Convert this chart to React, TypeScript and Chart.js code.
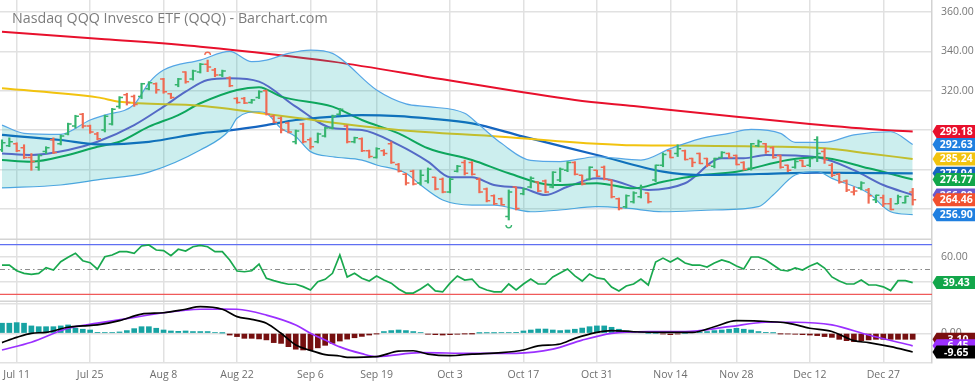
import React, { useEffect, useRef } from 'react';
import { Chart, registerables } from 'chart.js';

Chart.register(...registerables);

// ---------- categories (trading days) ----------
const MONTHS: [string, number[]][] = [
  ['Jul', [7, 8, 11, 12, 13, 14, 15, 18, 19, 20, 21, 22, 25, 26, 27, 28, 29]],
  ['Aug', [1, 2, 3, 4, 5, 8, 9, 10, 11, 12, 15, 16, 17, 18, 19, 22, 23, 24, 25, 26, 29, 30, 31]],
  ['Sep', [1, 2, 6, 7, 8, 9, 12, 13, 14, 15, 16, 19, 20, 21, 22, 23, 26, 27, 28, 29, 30]],
  ['Oct', [3, 4, 5, 6, 7, 10, 11, 12, 13, 14, 17, 18, 19, 20, 21, 24, 25, 26, 27, 28, 31]],
  ['Nov', [1, 2, 3, 4, 7, 8, 9, 10, 11, 14, 15, 16, 17, 18, 21, 22, 23, 25, 28, 29, 30]],
  ['Dec', [1, 2, 5, 6, 7, 8, 9, 12, 13, 14, 15, 16, 19, 20, 21, 22, 23, 27, 28, 29, 30]],
  ['Jan', [3]],
];
const DATES: string[] = MONTHS.flatMap(([m, days]) => days.map((d) => `${m} ${d}`));
const TICK_DATES = ['Jul 11', 'Jul 25', 'Aug 8', 'Aug 22', 'Sep 6', 'Sep 19', 'Oct 3', 'Oct 17', 'Oct 31', 'Nov 14', 'Nov 28', 'Dec 12', 'Dec 27'];

const TITLE = 'Nasdaq QQQ Invesco ETF (QQQ) - Barchart.com';

// ---------- price bars ----------
const OPEN = [
  290, 292, 293, 291, 286, 281, 289, 295, 293, 298,
  302, 308, 302, 298, 300, 303, 312, 318, 317, 317,
  321, 323.5, 326, 318.5, 323, 329.5, 326, 329.5, 333.5, 330.5,
  328, 326.5, 316, 316, 314, 316.5, 320, 307, 306, 303.5,
  294, 303, 295, 294, 297, 301, 308, 302, 294, 295.5,
  289.5, 286, 289.5, 293, 282.5, 277.5, 279, 273, 274, 276,
  275, 268.5, 279, 283.5, 283.5, 275, 270, 266.5, 265, 256,
  271, 267.5, 271, 273.5, 274, 271, 274.5, 279.5, 283.5, 277,
  275, 279.5, 281, 274.5, 265, 261, 263.5, 266, 268, 274.5,
  282, 289.5, 288, 289.5, 285.5, 288, 285.5, 281.5, 286, 288,
  287, 283.5, 280.5, 292, 293, 291, 287, 282, 281, 284.5,
  282, 295, 289, 282, 277.5, 274, 268.5, 270.5, 269.5, 264.5,
  265.5, 262.5, 262.5, 263, 268.5,
];
const HIGH = [
  295, 296, 293.5, 292.5, 288, 287.5, 291.5, 296, 297.5, 303.5,
  307.5, 308.5, 302.5, 298.8, 307.6, 311, 317, 318.7, 317.8, 323.8,
  324.6, 324, 326.3, 318.7, 326.3, 329.7, 330.5, 333.9, 335.6, 331.4,
  330.5, 327.1, 316.5, 316.6, 315.6, 320, 320.4, 307.6, 306.6, 304,
  300, 303.5, 296, 298.5, 301.5, 307.6, 311, 302.5, 296.4, 296,
  289.8, 291, 290, 294, 283, 278, 279.6, 279.6, 280.7, 276,
  275.6, 275.6, 282, 284.7, 283.9, 275.6, 270.5, 267, 265.4, 269.5,
  271, 270.5, 276.2, 273.7, 274.6, 278.8, 280.7, 283.9, 283.9, 277.1,
  281.3, 279.6, 281.7, 274.6, 265.4, 267, 268.6, 272, 268, 282.2,
  288.3, 289.8, 292.5, 289.8, 285.7, 288.3, 285.7, 285.7, 289, 288.3,
  287.3, 283.9, 293.2, 294.9, 293.2, 291.5, 287.3, 282.2, 284.7, 284.7,
  285.6, 296.6, 290.7, 283, 278, 274.6, 271.1, 273.7, 270.3, 266.9,
  266.9, 265.2, 266.9, 266.4, 270.3,
];
const LOW = [
  289, 291.5, 289, 285.5, 279.5, 279.5, 288, 288, 292.4, 297.5,
  301, 301, 298.3, 295, 299, 302.5, 311, 312.7, 312, 316,
  320.4, 318.7, 318.7, 316, 322, 323.8, 325.4, 329, 329.7, 327.1,
  327.1, 322, 313.6, 313.4, 313.6, 316, 307.6, 303.6, 298.5, 298.5,
  292.9, 293.4, 290.3, 293.4, 296.4, 300.5, 307.6, 293.4, 293.4, 289,
  285.8, 285.7, 287, 283, 278.6, 272, 272, 272, 273, 269.5,
  268, 268, 278.6, 277.1, 277, 268, 263.4, 262, 261.8, 254.2,
  259.3, 267, 270.5, 268.6, 268, 270.5, 273.7, 278.8, 277.1, 272,
  274.6, 276.2, 274.6, 265.4, 259.3, 260.3, 262.8, 265.4, 262.8, 273.7,
  281.3, 285.8, 286.5, 284.7, 281.3, 282.8, 281.3, 280.7, 285.7, 285.7,
  282.2, 279.6, 279.6, 291.5, 288.1, 285.6, 280.5, 278.8, 280.5, 281.3,
  281.3, 283.9, 283, 276.2, 272.9, 268.6, 266.9, 269.5, 262.7, 263,
  261, 259.3, 262.5, 262.8, 261.8,
];
const CLOSE = [
  293.5, 294, 289.5, 286, 284, 287, 291, 288.5, 297, 303,
  307, 302, 299, 295.5, 307, 310.5, 316.5, 314, 313, 323.5,
  324, 320.5, 319.5, 316.5, 326, 324.5, 330, 333.5, 332, 328,
  330, 322.5, 314, 313.8, 315.3, 319.5, 308, 304, 300, 299,
  299.5, 294, 291.5, 298, 301, 307, 310.5, 294, 296, 289.5,
  286.5, 290.5, 288, 283.5, 279, 273, 272.5, 277, 280, 270,
  268.5, 275, 281.5, 278, 277.5, 268.5, 264, 262.5, 262, 268.5,
  260, 270, 275.5, 269, 268.5, 278.5, 280, 283.5, 277.5, 272.5,
  281, 276.5, 275, 266, 260, 266.5, 268, 271, 263.5, 282,
  287.5, 286, 290.5, 285, 283.5, 283, 282, 285.5, 288.5, 286,
  282.5, 280, 293, 294, 289, 286, 281, 279.5, 284, 281.5,
  285.5, 288, 285, 277, 273.5, 269.5, 269, 273, 266.5, 266.8,
  262.5, 259.5, 266, 266.3, 264.46,
];

// ---------- overlay lines, read at sample days: [dayIndex, value] ----------
const MA200: [number, number][] = [[0, 350], [14, 346.2], [27, 342.4], [45, 334.8], [60, 325.8], [78, 315.3], [86, 312.2], [100, 306.8], [110, 303.1], [120, 300], [124, 299.18]];
const MA100: [number, number][] = [[0, 321.2], [13, 316.6], [16, 314.4], [27, 312.4], [32, 310.2], [40, 306.2], [54, 300], [68, 296.6], [81, 293], [86, 292.2], [95, 292], [109, 291.2], [112, 290.7], [118, 288.1], [124, 285.24]];
const MA50: [number, number][] = [[0, 297.5], [8, 294.9], [13, 292.7], [20, 294], [27, 298.3], [31, 299.8], [36, 302.5], [40, 305.1], [45, 306.8], [49, 307.6], [54, 307.1], [58, 305.9], [64, 303.4], [71, 296.6], [81, 287.3], [90, 278.8], [95, 277.1], [103, 277.6], [111, 278.3], [124, 277.94]];
const MA20: [number, number][] = [[0, 284.7], [4, 283.9], [9, 287.3], [13, 291.5], [16, 294], [20, 301.7], [24, 307.6], [27, 313.6], [32, 320.4], [35, 321.8], [38, 317], [45, 311.9], [49, 305.1], [54, 298.3], [58, 290.7], [64, 284.7], [69, 278], [75, 272], [81, 272.9], [86, 270.3], [90, 273.7], [95, 277], [100, 278.8], [107, 284.7], [111, 286.1], [118, 280.5], [124, 274.77]];
const MA10: [number, number][] = [[0, 288.1], [4, 287.3], [9, 289.8], [13, 294], [18, 302.5], [22, 311.9], [25, 319.5], [28, 325.4], [31, 326.3], [35, 324.6], [40, 311.9], [45, 301], [49, 300], [54, 292.4], [58, 283.9], [61, 276], [64, 275.9], [67, 272], [71, 270.3], [74, 266.9], [77, 271.1], [81, 275.4], [83, 274.6], [88, 269.5], [93, 272.9], [98, 285.6], [101, 285.6], [104, 287.3], [111, 286.1], [116, 279.6], [120, 272], [124, 266.9]];
const BB_UPPER: [number, number][] = [[0, 302.5], [3, 298.3], [8, 297.8], [12, 305.1], [14, 307.6], [18, 313], [20, 324], [22, 330.5], [27, 335.6], [31, 340], [34, 334.8], [36, 335.6], [39, 339], [42, 340.7], [45, 339], [51, 320.4], [55, 313.3], [58, 311.9], [63, 308.5], [65, 302.5], [68, 293.2], [72, 284.5], [76, 283.9], [81, 286.4], [87, 284.7], [91, 290.5], [95, 295.5], [99, 298.3], [102, 300.3], [106, 298.3], [108, 293.7], [112, 293.7], [116, 297.5], [121, 299.1], [124, 292.63]];
const BB_LOWER: [number, number][] = [[0, 270.5], [8, 272], [13, 274.6], [20, 278.6], [27, 289.8], [31, 300], [32, 306], [35, 309.3], [36, 308.5], [38, 300.9], [40, 296.6], [42, 289], [45, 286.4], [49, 284.7], [51, 282.2], [55, 278], [57, 272], [60, 264.4], [64, 261.8], [67, 261.8], [72, 258.4], [76, 259.3], [81, 261], [85, 260.2], [90, 258.4], [97, 259.3], [103, 261], [105, 266.9], [108, 277.1], [111, 278.8], [113, 275.4], [118, 267.8], [121, 258.4], [124, 256.9]];

// ---------- RSI ----------
const RSI = [
  53.6, 53.6, 49, 46.9, 46.1, 46.9, 51.5, 49.6, 56.3, 59.8,
  63.1, 57.1, 55.5, 50.2, 60.3, 61.7, 64.4, 64.4, 63.1, 69,
  69.8, 65.7, 65.2, 61.1, 66.3, 64.9, 68.4, 69.5, 68.4, 64.4,
  64.4, 57.7, 48.8, 48.2, 49, 54.4, 42.9, 41, 39.4, 38.1,
  38.1, 36.2, 33.5, 40.2, 42.1, 46.9,
  61.7, 44, 47, 43, 40.7, 44.8, 41.5, 39, 34.3, 31,
  31, 34.3, 38.3, 32.7, 31.9, 39, 44.8, 41.5, 42.3, 35.9,
  33.5, 31.9, 31.9, 38.3, 33.5, 38.3, 42.3, 38.3, 38.3, 44,
  47.2, 50.4, 44.8, 40.7, 46.4, 43.2, 42.3, 35.9, 32.7, 36.7,
  38.3, 42.3, 37.5, 56, 59.2, 56, 59.2, 55.2, 53.6, 53.6,
  52, 55.2, 57.7, 56, 52.8, 50.4, 60.1, 60.1, 57.7, 53.6,
  49.6, 48.8, 51.2, 49.6, 52.8, 55.2, 51.2, 44, 40.7, 38.3,
  38.3, 41.5, 37.5, 37.5, 36, 33, 41, 41, 39.43,
];
const RSI_OVER = 70;
const RSI_MID = 50;
const RSI_UNDER = 30;

// ---------- MACD ----------
const MACD_LINE: [number, number][] = [[0, -4.8], [2, -2.1], [4, 0], [6, 0.5], [9, 3.1], [11, 3.8], [13, 4.3], [16, 6.5], [19, 9.9], [22, 10.6], [25, 12.4], [27, 13.7], [30, 12.4], [32, 8.6], [34, 7.2], [36, 5.2], [38, 0], [40, -6], [42, -8.8], [44, -11], [46, -11.7], [47, -12.4], [51, -12], [54, -9.2], [56, -9], [58, -10.7], [61, -11.5], [64, -10.7], [68, -10], [71, -8.6], [73, -6.5], [76, -5.5], [78, -2.6], [81, 0.5], [83, 1.4], [86, 0.8], [90, 0.5], [94, 0.5], [97, 3.4], [100, 6.5], [103, 6.3], [107, 5.2], [110, 2.6], [113, 0.9], [116, -3.8], [118, -4.8], [121, -6.9], [124, -9.65]];
const MACD_SIGNAL: [number, number][] = [[0, -8.6], [4, -4.6], [9, 2.6], [13, 5.2], [18, 8.2], [22, 10.6], [27, 12.4], [30, 12.5], [32, 12.4], [36, 9.4], [40, 4.3], [42, 0], [44, -3.5], [46, -7], [49, -10.5], [51, -12], [57, -10], [64, -10.3], [70, -10.3], [75, -8.2], [79, -3.5], [83, 0], [88, 0.9], [93, 0.9], [99, 3.4], [104, 5.7], [108, 5.7], [113, 4.3], [118, -0.9], [124, -6.45]];
const MACD_HIST = [
  5.2, 5.2, 5.5, 5.2, 3.8, 3.4, 3.4, 3.4, 3.8, 4.3,
  2.6, 2.1, 1.7, 0.5, 0.3, 0.3, 0.7, 1.4, 2.4, 3.4,
  3.4, 2.6, 1.7, 1.2, 1.0, 1.2, 0.9, 0.9, 0.9, 0.3,
  0.1, -0.9, -1.7, -2.6, -2.6, -2.9, -3.4, -4.8, -5.2, -6.9,
  -8.2, -8.6, -8.6, -7.5, -6.2,
  -5.2, -4.0, -3.0, -2.3, -1.6, -0.9, -0.2,
  0.9, 1.4, 1.7, 1.4, 0.9, 0.3,
  -0.5, -0.7, -0.9, -0.7, -0.5, -0.2, -0.1,
  0.1, 0.2, 0.2, 0.3, 0.3, 0.5,
  1.2, 1.7, 2.2, 2.2, 1.7, 1.4, 1.7, 2.1, 2.7, 3.4, 3.8, 3.8, 3.1, 2.1, 1.2, 0.7, 0.3,
  0, 0, -0.3, -0.7, -0.3, 0,
  0.3, 0.5, 0.9, 1.4, 1.7, 2.1, 2.6, 2.1, 1.7, 0.9, 0.5, 0.2,
  -0.2, -0.3, -0.5, -0.7, -0.9, -1.2, -1.7, -2.1, -3.1, -3.8, -4.3, -3.8, -3.4, -3.1, -3.1, -3.1, -3.1, -3.1, -3.1,
];

// ---------- axis ticks ----------
const MAIN_TICKS = [260, 280, 300, 320, 340, 360];
const MAIN_LABELED = [320, 340, 360];
const RSI_TICKS = [30, 40, 50, 60, 70];
const RSI_LABELED = [60];
const MACD_TICKS = [-15, 0, 15];
const MACD_LABELED = [0];

// ---------- style ----------
const FONT = '"Open Sans", "Noto Sans", sans-serif';
const GRID = '#e1e1e1';
const UP = '#36b56f';
const DOWN = '#f06a52';
const X_MIN = -0.272;
const X_MAX = 126.63;
const AXIS_W = 43;

const pts = (arr: [number, number][]) => arr.map(([x, y]) => ({ x, y }));
const lastOf = (arr: [number, number][]) => arr[arr.length - 1][1];
const barColor = (i: number) => (i === 0 || CLOSE[i] >= CLOSE[i - 1] ? UP : DOWN);

function drawBadge(ctx: CanvasRenderingContext2D, chart: any, y: number, color: string, text: string) {
  const x0 = chart.chartArea.right + 0.5;
  const right = chart.width;
  const h = 13;
  const tip = 4;
  ctx.save();
  ctx.fillStyle = color;
  ctx.beginPath();
  ctx.moveTo(x0, y);
  ctx.lineTo(x0 + tip, y - h / 2);
  ctx.lineTo(right, y - h / 2);
  ctx.lineTo(right, y + h / 2);
  ctx.lineTo(x0 + tip, y + h / 2);
  ctx.closePath();
  ctx.fill();
  ctx.fillStyle = '#ffffff';
  ctx.font = `bold 10.5px ${FONT}`;
  ctx.textAlign = 'center';
  ctx.textBaseline = 'middle';
  ctx.fillText(text, (x0 + tip + right) / 2 + 0.5, y + 0.5);
  ctx.restore();
}

function xAxis(height: number, labels: boolean) {
  return {
    type: 'linear',
    min: X_MIN,
    max: X_MAX,
    offset: false,
    afterBuildTicks: (s: any) => {
      s.ticks = TICK_DATES.map((d) => ({ value: DATES.indexOf(d) }));
    },
    afterFit: (s: any) => {
      s.height = height;
      s.paddingLeft = 0;
      s.paddingRight = 0;
      s.paddingTop = 0;
      s.paddingBottom = 0;
    },
    grid: { color: GRID, lineWidth: 1.5, drawTicks: false, offset: false },
    border: { display: false },
    ticks: labels
      ? {
          display: true,
          autoSkip: false,
          maxRotation: 0,
          padding: 6,
          color: '#6e6e6e',
          font: { family: FONT, size: 10.5 },
          callback: (v: any) => DATES[Math.round(Number(v))] ?? '',
        }
      : { display: false },
  };
}

function yAxis(min: number, max: number, ticks: number[], labeled: number[], gridColor?: (v: number) => string) {
  return {
    position: 'right',
    min,
    max,
    afterBuildTicks: (s: any) => {
      s.ticks = ticks.map((v) => ({ value: v }));
    },
    afterFit: (s: any) => {
      s.width = AXIS_W;
      s.paddingTop = 0;
      s.paddingBottom = 0;
      s.paddingLeft = 0;
      s.paddingRight = 0;
    },
    grid: {
      color: (c: any) => (gridColor ? gridColor(c.tick?.value) : GRID),
      lineWidth: 1.5,
      drawTicks: false,
    },
    border: { display: true, color: '#d2d2d2', width: 1.5 },
    ticks: {
      autoSkip: false,
      padding: 9,
      color: '#777777',
      font: { family: FONT, size: 10.5 },
      callback: (v: any) => (labeled.includes(Number(v)) ? Number(v).toFixed(2) : ''),
    },
  };
}

const baseOptions = {
  responsive: false,
  animation: false,
  devicePixelRatio: 1,
  events: [],
  layout: { padding: 0 },
  plugins: { legend: { display: false }, tooltip: { enabled: false }, title: { display: false } },
};

const lineDs = (data: [number, number][], color: string, width: number, order: number, extra: any = {}) => ({
  type: 'line',
  data: pts(data),
  borderColor: color,
  borderWidth: width,
  pointRadius: 0,
  fill: false,
  cubicInterpolationMode: 'monotone',
  order,
  ...extra,
});

function mainConfig(): any {
  const barData = CLOSE.map((_, i) => ({ x: i, y: [LOW[i], HIGH[i]] }));
  const mainPlugin = {
    id: 'mainExtras',
    afterDatasetsDraw(chart: any) {
      const { ctx, scales } = chart;
      const xs = scales.x;
      const ys = scales.y;
      ctx.save();
      ctx.lineWidth = 1.5;
      for (let i = 0; i < CLOSE.length; i++) {
        const px = xs.getPixelForValue(i);
        const yo = ys.getPixelForValue(OPEN[i]);
        const yc = ys.getPixelForValue(CLOSE[i]);
        ctx.strokeStyle = barColor(i);
        ctx.beginPath();
        ctx.moveTo(px - 3.5, yo);
        ctx.lineTo(px, yo);
        ctx.moveTo(px, yc);
        ctx.lineTo(px + 3.5, yc);
        ctx.stroke();
      }
      // highest high / lowest low markers
      const hi = HIGH.indexOf(Math.max(...HIGH));
      const lo = LOW.indexOf(Math.min(...LOW));
      ctx.lineWidth = 1.3;
      ctx.strokeStyle = DOWN;
      ctx.beginPath();
      ctx.arc(xs.getPixelForValue(hi), ys.getPixelForValue(HIGH[hi]) - 5, 2.8, Math.PI, 2 * Math.PI);
      ctx.stroke();
      ctx.strokeStyle = UP;
      ctx.beginPath();
      ctx.arc(xs.getPixelForValue(lo), ys.getPixelForValue(LOW[lo]) + 5, 2.8, 0, Math.PI);
      ctx.stroke();
      ctx.restore();
    },
    afterDraw(chart: any) {
      const { ctx, scales, chartArea } = chart;
      const ys = scales.y;
      ctx.save();
      ctx.fillStyle = '#d4d4d4';
      ctx.fillRect(chartArea.left, chartArea.bottom - 1.5, chartArea.right - chartArea.left, 1.5);
      let size = 15;
      ctx.font = `${size}px ${FONT}`;
      const w = ctx.measureText(TITLE).width;
      size = (size * 316) / w;
      ctx.font = `${size}px ${FONT}`;
      ctx.fillStyle = '#7c7c7c';
      ctx.textBaseline = 'alphabetic';
      ctx.textAlign = 'left';
      ctx.fillText(TITLE, 12, 23);
      ctx.restore();
      const badges: [number, string][] = [
        [lastOf(MA200), '#e8102c'],
        [lastOf(BB_UPPER), '#1f7fe0'],
        [lastOf(MA100), '#f2c30f'],
        [lastOf(MA50), '#1565c0'],
        [lastOf(MA20), '#12a64a'],
        [lastOf(MA10), '#6a5acd'],
        [CLOSE[CLOSE.length - 1], '#f2502e'],
        [lastOf(BB_LOWER), '#1f7fe0'],
      ];
      badges.forEach(([v, c]) => drawBadge(ctx, chart, ys.getPixelForValue(v), c, v.toFixed(2)));
    },
  };
  return {
    type: 'line',
    data: {
      datasets: [
        {
          type: 'bar',
          data: barData,
          backgroundColor: CLOSE.map((_, i) => barColor(i)),
          borderWidth: 0,
          barThickness: 1.5,
          order: 0,
        },
        lineDs(BB_UPPER, '#55a6e6', 1.2, 1, { fill: '+1', backgroundColor: 'rgba(0,172,172,0.2)' }),
        lineDs(BB_LOWER, '#55a6e6', 1.2, 1),
        lineDs(MA200, '#e8102c', 2, 2),
        lineDs(MA100, '#f2c30f', 2, 2),
        lineDs(MA50, '#1565c0', 2.2, 2),
        lineDs(MA20, '#12a64a', 2, 2),
        lineDs(MA10, '#6a5acd', 2, 2),
      ],
    },
    options: {
      ...baseOptions,
      scales: {
        x: xAxis(0, false),
        y: yAxis(244.02, 366.16, MAIN_TICKS, MAIN_LABELED),
      },
    },
    plugins: [mainPlugin],
  };
}

function rsiConfig(): any {
  const rsiPlugin = {
    id: 'rsiExtras',
    beforeDatasetsDraw(chart: any) {
      const { ctx, chartArea: a, scales } = chart;
      const ys = scales.y;
      const level = (v: number, color: string, dash: number[], w: number) => {
        const y = ys.getPixelForValue(v);
        ctx.save();
        ctx.strokeStyle = color;
        ctx.lineWidth = w;
        ctx.setLineDash(dash);
        ctx.beginPath();
        ctx.moveTo(a.left, y);
        ctx.lineTo(a.right, y);
        ctx.stroke();
        ctx.restore();
      };
      level(RSI_OVER, '#5f6ff2', [], 1.3);
      level(RSI_UNDER, '#f05a5a', [], 1.3);
      level(RSI_MID, '#8c8c8c', [5, 3, 1.5, 3], 1.2);
    },
    afterDraw(chart: any) {
      const { ctx, chartArea } = chart;
      ctx.save();
      ctx.fillStyle = '#d4d4d4';
      ctx.fillRect(chartArea.left, chartArea.bottom - 1.5, chartArea.right - chartArea.left, 1.5);
      ctx.restore();
      const v = RSI[RSI.length - 1];
      drawBadge(ctx, chart, chart.scales.y.getPixelForValue(v), '#12a64a', v.toFixed(2));
    },
  };
  return {
    type: 'line',
    data: {
      datasets: [
        {
          data: RSI.map((v, i) => ({ x: i, y: v })),
          borderColor: '#19a84e',
          borderWidth: 1.7,
          pointRadius: 0,
          fill: false,
          tension: 0,
        },
      ],
    },
    options: {
      ...baseOptions,
      scales: {
        x: xAxis(0, false),
        y: yAxis(23.79, 73.79, RSI_TICKS, RSI_LABELED, (v) =>
          v === RSI_OVER || v === RSI_UNDER || v === RSI_MID ? 'rgba(0,0,0,0)' : GRID
        ),
      },
    },
    plugins: [rsiPlugin],
  };
}

function macdConfig(): any {
  const macdPlugin = {
    id: 'macdExtras',
    afterDraw(chart: any) {
      const { ctx, scales } = chart;
      const ys = scales.y;
      const h = MACD_HIST[MACD_HIST.length - 1];
      const s = lastOf(MACD_SIGNAL);
      const m = lastOf(MACD_LINE);
      drawBadge(ctx, chart, ys.getPixelForValue(h), '#7a0f0f', h.toFixed(2));
      drawBadge(ctx, chart, ys.getPixelForValue(s), '#9b30ff', s.toFixed(2));
      drawBadge(ctx, chart, ys.getPixelForValue(m), '#000000', m.toFixed(2));
    },
  };
  return {
    type: 'line',
    data: {
      datasets: [
        {
          type: 'bar',
          data: MACD_HIST.map((v, i) => ({ x: i, y: v })),
          backgroundColor: MACD_HIST.map((v) => (v >= 0 ? '#17a3a3' : '#761010')),
          borderWidth: 0,
          barThickness: 5,
          order: 3,
        },
        lineDs(MACD_SIGNAL, '#9b30ff', 1.7, 2),
        lineDs(MACD_LINE, '#000000', 1.7, 1),
      ],
    },
    options: {
      ...baseOptions,
      scales: {
        x: xAxis(22, true),
        y: yAxis(-15.31, 16.13, MACD_TICKS, MACD_LABELED),
      },
    },
    plugins: [macdPlugin],
  };
}

export default function App() {
  const mainRef = useRef<HTMLCanvasElement>(null);
  const rsiRef = useRef<HTMLCanvasElement>(null);
  const macdRef = useRef<HTMLCanvasElement>(null);

  useEffect(() => {
    document.body.style.margin = '0';
    Chart.defaults.font.family = FONT;
    const charts: Chart[] = [];
    if (mainRef.current) charts.push(new Chart(mainRef.current, mainConfig()));
    if (rsiRef.current) charts.push(new Chart(rsiRef.current, rsiConfig()));
    if (macdRef.current) charts.push(new Chart(macdRef.current, macdConfig()));
    return () => charts.forEach((c) => c.destroy());
  }, []);

  const cs = (top: number, h: number): React.CSSProperties => ({
    position: 'absolute',
    left: 0,
    top,
    width: 975,
    height: h,
    display: 'block',
  });

  return (
    <div style={{ position: 'relative', width: 975, height: 385, background: '#ffffff', overflow: 'hidden' }}>
      <canvas ref={mainRef} width={975} height={240} style={cs(0, 240)} />
      <canvas ref={rsiRef} width={975} height={62} style={cs(240, 62)} />
      <canvas ref={macdRef} width={975} height={83} style={cs(302, 83)} />
    </div>
  );
}
